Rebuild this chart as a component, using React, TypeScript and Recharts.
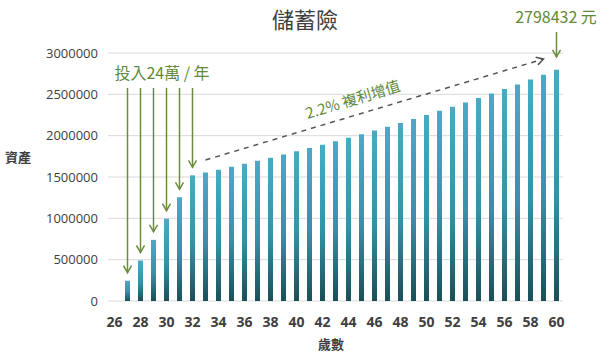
import React from 'react';
import { BarChart, Bar, XAxis, YAxis, CartesianGrid, ReferenceLine, Customized } from 'recharts';

const ages = ['26','27','28','29','30','31','32','33','34','35','36','37','38','39','40','41','42','43','44','45','46','47','48','49','50','51','52','53','54','55','56','57','58','59','60'];
const assets: (number | null)[] = [null, 245000, 490000, 740000, 995000, 1255000, 1520000, 1554000, 1589000, 1624000, 1659000, 1696000, 1733000, 1771000, 1810000, 1850000, 1891000, 1932000, 1975000, 2018000, 2063000, 2108000, 2154000, 2202000, 2250000, 2300000, 2350000, 2402000, 2455000, 2509000, 2564000, 2620000, 2678000, 2738000, 2798432];
const yTicks = [0, 500000, 1000000, 1500000, 2000000, 2500000, 3000000];
const depositAges = ['27','28','29','30','31','32'];
const depositArrowStart = 2577000;
const growthStart = { age: '33', value: 1706000 };
const growthEnd = { age: '59', value: 2927000 };
const finalArrow = { age: '60', from: 3254000, to: 2952000 };

const data = ages.map((a, i) => ({ age: a, value: assets[i] }));
const GREEN = '#6b8e3e';
const TEXT_GREEN = '#5f8a3a';

const ArrowLine = (props: any) => {
  const { x1, y1, x2, y2, stroke, dash, gap, marker } = props;
  const dx = x2 - x1, dy = y2 - y1;
  const len = Math.sqrt(dx * dx + dy * dy) || 1;
  const g = gap || 0;
  const ex = x2 - (dx / len) * g, ey = y2 - (dy / len) * g;
  return <line x1={x1} y1={y1} x2={ex} y2={ey} stroke={stroke} strokeWidth={1.5} strokeDasharray={dash} markerEnd={`url(#${marker})`} />;
};

const Texts = () => (
  <g>
    <text x={305} y={28} textAnchor="middle" fontSize={22} fill="#404040" fontFamily="Noto Sans CJK TC">儲蓄險</text>
    <text x={556} y={23} textAnchor="middle" fontSize={16} fill={TEXT_GREEN} fontFamily="Noto Sans CJK TC">2798432 元</text>
    <text x={162} y={79} textAnchor="middle" fontSize={16} fill={TEXT_GREEN} fontFamily="Noto Sans CJK TC">投入24萬 / 年</text>
    <text x={353} y={105} textAnchor="middle" fontSize={15} fill={TEXT_GREEN} fontFamily="Noto Sans CJK TC" transform="rotate(-17 353 100)">2.2% 複利增值</text>
    <text x={18} y={162} textAnchor="middle" fontSize={13} fontWeight="bold" fill="#404040" fontFamily="Noto Sans CJK TC">資產</text>
    <text x={331} y={349} textAnchor="middle" fontSize={13} fontWeight="bold" fill="#404040" fontFamily="Noto Sans CJK TC">歲數</text>
  </g>
);

export default function App() {
  return (
    <div style={{ position: 'absolute', left: 0, top: 0, width: 600, height: 354, background: '#fff' }}>
      <BarChart width={600} height={354} data={data} margin={{ top: 53, right: 37, bottom: 23, left: 0 }}>
        <defs>
          <linearGradient id="barGrad" x1="0" y1="0" x2="0" y2="1">
            <stop offset="0%" stopColor="#4aaac6" />
            <stop offset="55%" stopColor="#3790a8" />
            <stop offset="100%" stopColor="#1b4f57" />
          </linearGradient>
          <marker id="greenHead" markerWidth="10" markerHeight="10" refX="8" refY="5" orient="auto" markerUnits="userSpaceOnUse">
            <path d="M1,1 L8,5 L1,9" fill="none" stroke={GREEN} strokeWidth={1.5} />
          </marker>
          <marker id="grayHead" markerWidth="10" markerHeight="10" refX="8" refY="5" orient="auto" markerUnits="userSpaceOnUse">
            <path d="M1,1 L8,5 L1,9" fill="none" stroke="#555" strokeWidth={1.5} />
          </marker>
        </defs>
        <CartesianGrid vertical={false} stroke="#d9d9d9" />
        <XAxis dataKey="age" interval={1} axisLine={false} tickLine={false} tickMargin={10} height={30}
          tick={{ fontSize: 14, fill: '#404040', fontWeight: 'bold', fontFamily: 'Open Sans' }} />
        <YAxis domain={[0, 3000000]} ticks={yTicks} width={108} axisLine={false} tickLine={false} tickMargin={4}
          tick={{ fontSize: 13, fill: '#404040', fontFamily: 'Open Sans' }} />
        <Bar dataKey="value" fill="url(#barGrad)" barSize={5} isAnimationActive={false} />
        {depositAges.map((a) => (
          <ReferenceLine key={a} ifOverflow="visible"
            segment={[{ x: a, y: depositArrowStart }, { x: a, y: assets[ages.indexOf(a)] as number }]}
            shape={(p: any) => <ArrowLine {...p} stroke={GREEN} gap={8} marker="greenHead" />} />
        ))}
        <ReferenceLine ifOverflow="visible"
          segment={[{ x: growthStart.age, y: growthStart.value }, { x: growthEnd.age, y: growthEnd.value }]}
          shape={(p: any) => <ArrowLine {...p} stroke="#555" dash="5 5" marker="grayHead" />} />
        <ReferenceLine ifOverflow="visible"
          segment={[{ x: finalArrow.age, y: finalArrow.from }, { x: finalArrow.age, y: finalArrow.to }]}
          shape={(p: any) => <ArrowLine {...p} stroke={GREEN} marker="greenHead" />} />
        <Customized component={Texts} />
      </BarChart>
    </div>
  );
}
